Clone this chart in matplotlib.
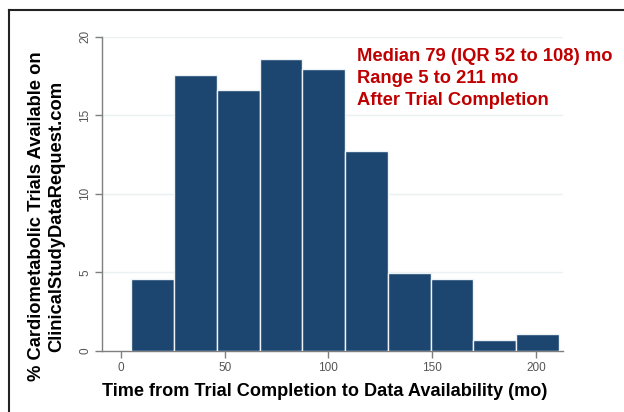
import matplotlib
matplotlib.use("Agg")
import matplotlib.pyplot as plt
import numpy as np
from matplotlib.lines import Line2D

plt.rcParams['font.family'] = ['Liberation Sans', 'DejaVu Sans']

# histogram bins (months) and percent of trials in each
bin_edges = [5, 25.6, 46.2, 66.8, 87.4, 108, 128.6, 149.2, 169.8, 190.4, 211]
percent = [4.6, 17.55, 16.6, 18.55, 17.95, 12.7, 4.95, 4.6, 0.7, 1.08]

x_ticks = [0, 50, 100, 150, 200]
y_ticks = [0, 5, 10, 15, 20]

note_lines = ["Median 79 (IQR 52 to 108) mo", "Range 5 to 211 mo", "After Trial Completion"]

BAR = '#1c4670'
AXIS = '#7f7f7f'
TICKTXT = '#555555'
W, H = 624, 412


def fx(px):
    return px / W


def fy(py):
    return 1 - py / H


fig = plt.figure(figsize=(W / 100, H / 100), dpi=100)
ax = fig.add_axes([0.164, 0.148, 0.738, 0.763])

left = np.array(bin_edges[:-1])
widths = np.diff(bin_edges)
ax.bar(left, percent, width=widths, align='edge', color=BAR,
       edgecolor='#eef3f6', linewidth=1.0, zorder=3)

ax.set_xlim(-9, 213)
ax.set_ylim(0, 20)
ax.set_xticks(x_ticks)
ax.set_yticks(y_ticks)
ax.set_yticklabels([str(v) for v in y_ticks], rotation=90, va='center')

for v in y_ticks[1:]:
    ax.axhline(v, color='#eaf1f3', linewidth=1.0, zorder=1)

for s in ['top', 'right']:
    ax.spines[s].set_visible(False)
for s in ['left', 'bottom']:
    ax.spines[s].set_color(AXIS)
    ax.spines[s].set_linewidth(1.0)

ax.tick_params(axis='both', colors=AXIS, labelcolor=TICKTXT, labelsize=8.5,
               length=5, width=1.0, direction='out', pad=3)

# axis titles placed like the original (centred on the figure, not the axes)
fig.text(fx(325), fy(396), "Time from Trial Completion to Data Availability (mo)",
         fontsize=13.1, fontweight='bold', ha='center', va='baseline')
fig.text(fx(46.5), fy(216), "% Cardiometabolic Trials Available on\nClinicalStudyDataRequest.com",
         fontsize=13.2, fontweight='bold', ha='center', va='center',
         rotation=90, multialignment='center', linespacing=1.2)

# summary note, one line at a time
for i, line in enumerate(note_lines):
    fig.text(fx(356.7), fy(60.7 + 22.2 * i), line, color='#c00000',
             fontsize=13.2, fontweight='bold', ha='left', va='baseline')

# partial frame around the figure (top and left only, like the crop)
fig.add_artist(Line2D([fx(9), fx(9)], [0, fy(10)],
                      transform=fig.transFigure, color='#222222', linewidth=1.5))
fig.add_artist(Line2D([fx(9), 1], [fy(10), fy(10)],
                      transform=fig.transFigure, color='#222222', linewidth=1.5))

fig.savefig("out.png", dpi=100)
